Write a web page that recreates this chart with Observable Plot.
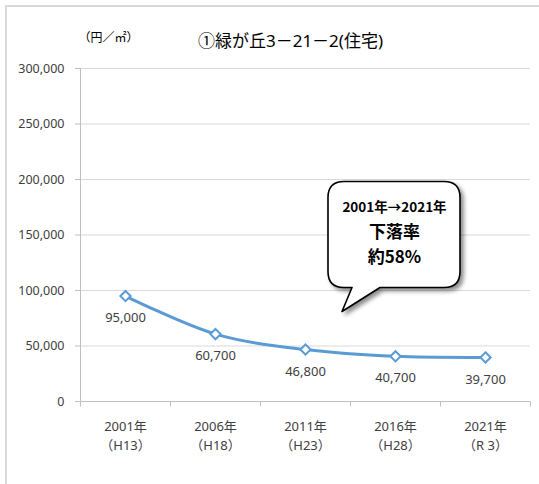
<!DOCTYPE html>
<html><head><meta charset="utf-8">
<script src="https://cdn.jsdelivr.net/npm/d3@7"></script>
<script src="https://cdn.jsdelivr.net/npm/@observablehq/plot@0.6"></script>
<style>
body{margin:0;background:#fff;}
#wrap{position:relative;width:539px;height:484px;}
#border{position:absolute;left:5px;top:5px;right:0;bottom:0;border-top:2px solid #d9d9d9;border-left:2px solid #d9d9d9;pointer-events:none;}
</style></head><body><div id="wrap"><div id="border"></div></div>
<script>
// ---- data ----
const title = "①緑が丘3－21－2(住宅)";
const unitLabel = "（円／㎡）";
const years = ["2001年", "2006年", "2011年", "2016年", "2021年"];
const eras = ["（H13）", "（H18）", "（H23）", "（H28）", "（R 3）"];
const prices = [95000, 60700, 46800, 40700, 39700];
const yTicks = [0, 50000, 100000, 150000, 200000, 250000, 300000];
const calloutLines = ["2001年→2021年", "下落率", "約58%"];
const calloutYear = "2016年";
const calloutValue = 150000;

const data = years.map((year, i) => ({year, era: eras[i], price: prices[i]}));
const fmt = d3.format(",");
const font = "'Noto Sans', 'Noto Sans CJK JP', sans-serif";
const cjkBold = "'Noto Sans CJK JP', sans-serif";
const blue = "#5b9bd5";
const axisGray = "#bfbfbf";

// band boundary ticks, baseline and left axis line
function frameLines(index, scales, values, dims) {
  const x = scales.x, y = scales.y;
  const g = d3.create("svg:g").attr("stroke", axisGray).attr("stroke-width", 1);
  const y0 = Math.round(y(0)) + 0.5;
  const left = dims.marginLeft + 0.5;
  g.append("line").attr("x1", left).attr("x2", dims.width - dims.marginRight).attr("y1", y0).attr("y2", y0);
  g.append("line").attr("x1", left).attr("x2", left).attr("y1", dims.marginTop).attr("y2", y0);
  const xs = years.map(d => x(d)).concat([x(years[years.length - 1]) + x.bandwidth()]);
  xs.forEach(px => g.append("line").attr("x1", px + 0.5).attr("x2", px + 0.5).attr("y1", y0).attr("y2", y0 + 5));
  return g.node();
}

// speech-bubble callout
function calloutBubble(index, scales, values, dims) {
  const cx = scales.x(calloutYear) + scales.x.bandwidth() / 2 - 1;
  const cy = scales.y(calloutValue);
  const hw = 66, hh = 53, r = 16;
  const L = cx - hw, R = cx + hw, T = cy - hh, B = cy + hh;
  const path = `M${L + r},${T} L${R - r},${T} Q${R},${T} ${R},${T + r} L${R},${B - r} Q${R},${B} ${R - r},${B}`
    + ` L${cx - 14},${B} L${cx - 52},${cy + 77} L${cx - 42},${B} L${L + r},${B} Q${L},${B} ${L},${B - r}`
    + ` L${L},${T + r} Q${L},${T} ${L + r},${T} Z`;
  const g = d3.create("svg:g");
  const f = g.append("defs").append("filter").attr("id", "bubbleShadow")
    .attr("x", "-20%").attr("y", "-20%").attr("width", "140%").attr("height", "140%");
  f.append("feDropShadow").attr("dx", 3).attr("dy", 3).attr("stdDeviation", 2)
    .attr("flood-color", "#000").attr("flood-opacity", 0.45);
  g.append("path").attr("d", path).attr("fill", "white").attr("stroke", "#000")
    .attr("stroke-width", 1.6).attr("stroke-linejoin", "round").attr("filter", "url(#bubbleShadow)");
  return g.node();
}

const calloutData = calloutLines.map((t, i) => ({t, i}));
const calloutText = (i, size, dy) => Plot.text(calloutData, {
  x: () => calloutYear, y: () => calloutValue, text: "t",
  fontFamily: cjkBold, fontWeight: "bold", fill: "#000", fontSize: size,
  filter: d => d.i === i, dy, dx: -1
});

const chart = Plot.plot({
  width: 539,
  height: 484,
  marginLeft: 80,
  marginRight: 9,
  marginTop: 68,
  marginBottom: 83,
  style: {fontFamily: font, fontSize: "12.5px", color: "#404040", background: "transparent"},
  x: {type: "band", domain: years, padding: 0, label: null},
  y: {domain: [0, 300000], label: null},
  marks: [
    Plot.gridY(yTicks.filter(d => d > 0), {stroke: "#d9d9d9", strokeOpacity: 1, strokeWidth: 1}),
    Plot.axisY(yTicks, {tickSize: 5, tickPadding: 11, tickFormat: fmt, stroke: axisGray, fill: "#404040", fontSize: 12.5, label: null}),
    Plot.axisX({tickSize: 0, tickPadding: 16, tickFormat: d => d + "\n" + eras[years.indexOf(d)], lineHeight: 1.48, fill: "#404040", fontSize: 13, label: null}),
    frameLines,
    Plot.line(data, {x: "year", y: "price", stroke: blue, strokeWidth: 3, curve: "catmull-rom"}),
    Plot.dot(data, {x: "year", y: "price", symbol: "diamond2", r: 4.6, fill: "white", stroke: blue, strokeWidth: 2}),
    Plot.text(data, {x: "year", y: "price", text: d => fmt(d.price), dy: 22, fontSize: 13, fill: "#404040"}),
    calloutBubble,
    calloutText(0, 13.5, -27),
    calloutText(1, 17, -2),
    calloutText(2, 17, 23),
    Plot.text([title], {frameAnchor: "top", dx: -15, dy: -34, fontSize: 17, fill: "#000", fontFamily: font}),
    Plot.text([unitLabel], {frameAnchor: "top-left", dx: -2, dy: -35, fontSize: 12, fill: "#000", fontFamily: font})
  ]
});
document.getElementById("wrap").prepend(chart);
</script>
</body></html>
